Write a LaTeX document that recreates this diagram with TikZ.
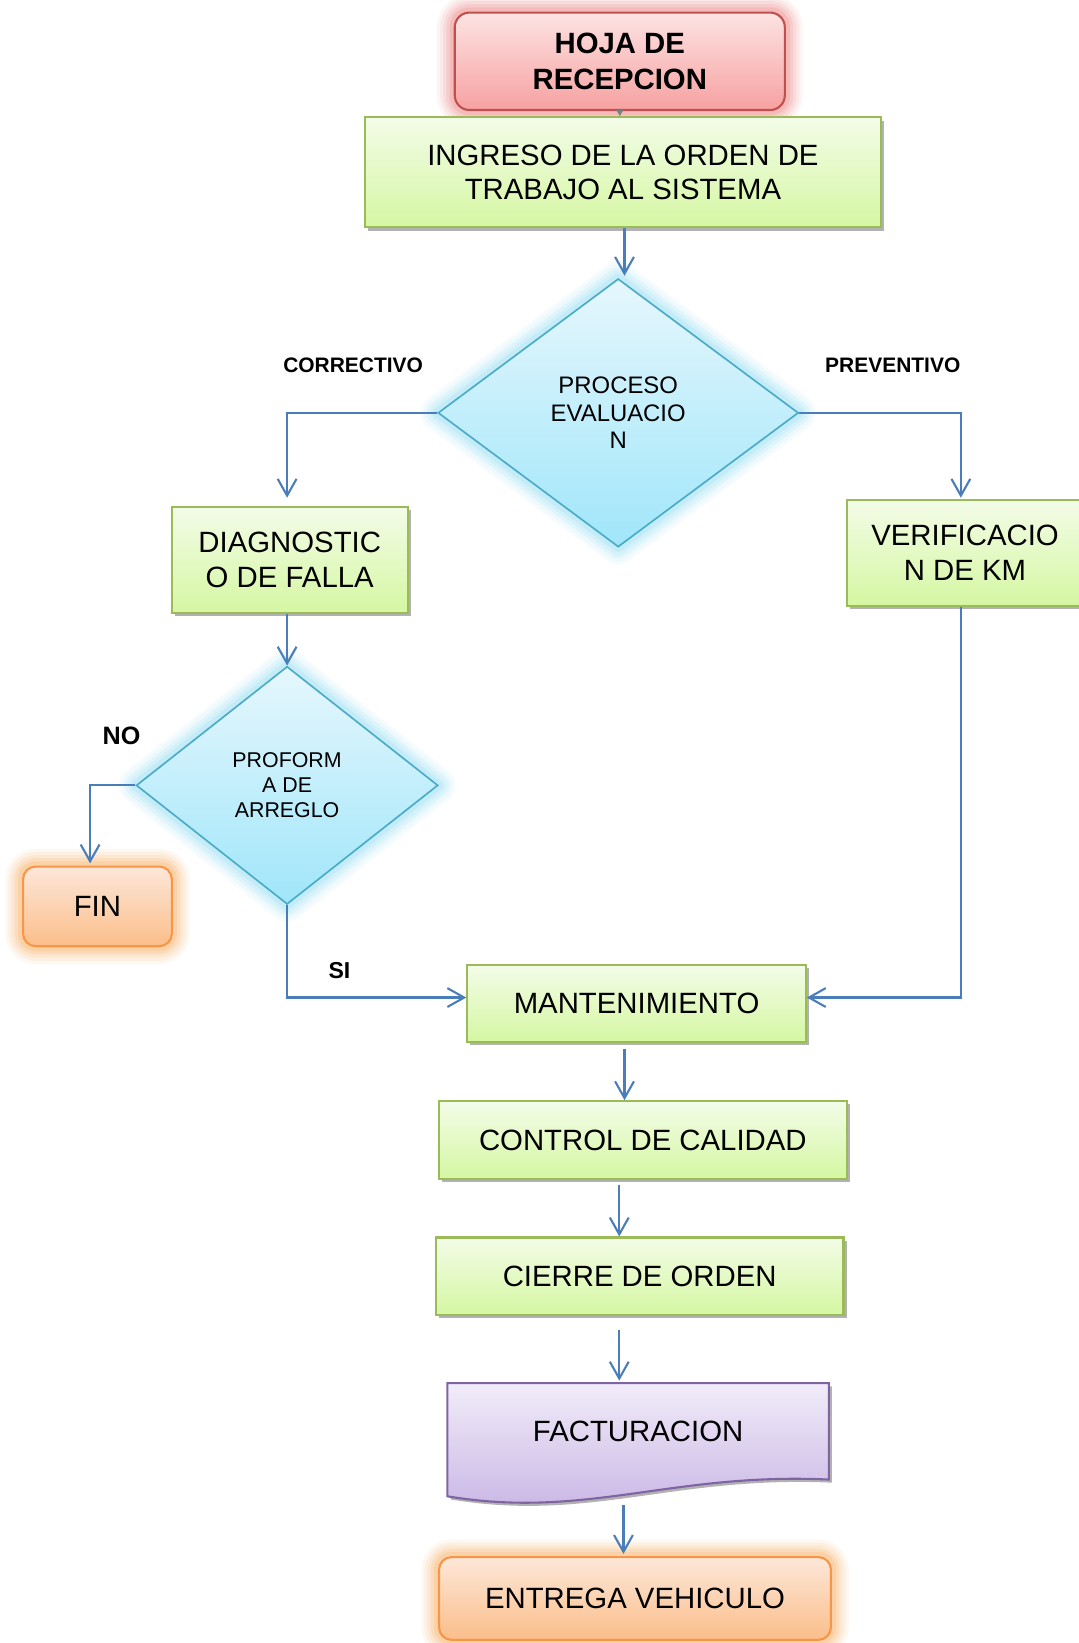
\documentclass[tikz,border=0pt]{standalone}
\usepackage{fontspec}
\setmainfont{Liberation Sans}
\usetikzlibrary{shapes.geometric,arrows.meta,calc,shadows}
\definecolor{lineblue}{HTML}{4A7EBB}
\definecolor{grnborder}{HTML}{9BBB59}
\definecolor{grntop}{HTML}{F3FCE8}
\definecolor{grnbot}{HTML}{D5F7A2}
\definecolor{redborder}{HTML}{C0504D}
\definecolor{redtop}{HTML}{FDE3E3}
\definecolor{redbot}{HTML}{F7A1A1}
\definecolor{redglow}{HTML}{EE7B7B}
\definecolor{orgborder}{HTML}{F79646}
\definecolor{orgtop}{HTML}{FDE7D9}
\definecolor{orgbot}{HTML}{FBBE8A}
\definecolor{orgglow}{HTML}{FBA94F}
\definecolor{bluborder}{HTML}{4BACC6}
\definecolor{blutop}{HTML}{E6F7FD}
\definecolor{blubot}{HTML}{A0E6FA}
\definecolor{bluglow}{HTML}{8ADCF4}
\definecolor{vioborder}{HTML}{8064A2}
\definecolor{viotop}{HTML}{F1ECF9}
\definecolor{viobot}{HTML}{C7B3E4}
\tikzset{
  glow/.style={
    preaction={draw=#1,line width=17pt,draw opacity=0.07,line join=round},
    preaction={draw=#1,line width=14pt,draw opacity=0.09,line join=round},
    preaction={draw=#1,line width=11pt,draw opacity=0.12,line join=round},
    preaction={draw=#1,line width=8pt,draw opacity=0.15,line join=round},
    preaction={draw=#1,line width=5pt,draw opacity=0.2,line join=round}},
  bigtext/.style={font=\fontsize{14}{16.5}\selectfont, align=center, inner sep=0pt},
  greenbox/.style={rectangle, draw=grnborder, line width=1pt, top color=grntop,
    bottom color=grnbot, bigtext,
    drop shadow={shadow xshift=1.5pt, shadow yshift=-1.5pt, opacity=0.3, fill=black}},
  termred/.style={rectangle, rounded corners=7pt, draw=redborder, line width=1pt,
    top color=redtop, bottom color=redbot, glow=redglow, bigtext, font=\fontsize{14}{17.5}\selectfont\bfseries},
  termorg/.style={rectangle, rounded corners=6pt, draw=orgborder, line width=1pt,
    top color=orgtop, bottom color=orgbot, glow=orgglow, bigtext},
  decision/.style={diamond, draw=bluborder, line width=0.8pt, top color=blutop,
    bottom color=blubot, glow=bluglow, align=center, inner sep=0pt},
  conn/.style={draw=lineblue, line width=1pt, -{Straight Barb[length=8pt,width=9pt]}},
  lbl/.style={font=\fontsize{10}{12}\selectfont\bfseries, inner sep=0pt},
}
\begin{document}
\begin{tikzpicture}[x=0.5pt,y=-0.5pt]
\fill[white] (0,0) rectangle (1029,1568);
\useasboundingbox (0,0) rectangle (1029,1568);
\coordinate (xa) at (596,0);
\coordinate (xb) at (591,0);
\coordinate (xc) at (595,0);
\coordinate (xv) at (917,0);
\coordinate (xn) at (86,0);
\coordinate (ym) at (0,952);

% nodes
\node[termred, minimum width=157.5pt, minimum height=46.5pt] (hoja) at (591.5,58.5) {HOJA DE\\RECEPCION};
\node[greenbox, minimum width=246.5pt, minimum height=52.5pt] (ing) at (594.5,164.5) {INGRESO DE LA ORDEN DE\\TRABAJO AL SISTEMA};
\node[decision, minimum width=172pt, minimum height=128pt,
      font=\fontsize{11.4}{13}\selectfont] (pe) at (590,394) {PROCESO\\EVALUACIO\\N};
\node[greenbox, minimum width=112.5pt, minimum height=50.5pt] (diag) at (276.5,534.5) {DIAGNOSTIC\\O DE FALLA};
\node[greenbox, minimum width=113pt, minimum height=50.5pt] (verif) at (921,527.5) {VERIFICACIO\\N DE KM};
\node[decision, minimum width=144pt, minimum height=113.5pt,
      font=\fontsize{10.2}{12}\selectfont] (pf) at (274,749.5) {PROFORM\\A DE\\ARREGLO};
\node[termorg, minimum width=71pt, minimum height=38pt] (fin) at (93,865) {FIN};
\node[greenbox, minimum width=161.5pt, minimum height=36.5pt] (mant) at (607.5,957.5) {MANTENIMIENTO};
\node[greenbox, minimum width=194.5pt, minimum height=37pt] (ctrl) at (613.5,1088) {CONTROL DE CALIDAD};
\node[greenbox, minimum width=194.5pt, minimum height=37pt] (cierre) at (610.5,1218) {CIERRE DE ORDEN};

% document shape for FACTURACION
\fill[black, opacity=0.3, xshift=1.5pt, yshift=-1.5pt]
  (427,1320) -- (791,1320) -- (791,1412) .. controls (640,1405) and (560,1450) .. (427,1428) -- cycle;
\path[draw=vioborder, line width=1pt, top color=viotop, bottom color=viobot]
  (427,1320) -- (791,1320) -- (791,1412) .. controls (640,1405) and (560,1450) .. (427,1428) -- cycle;
\node[bigtext, minimum width=182pt, minimum height=46pt] (fact) at (609,1366) {FACTURACION};

\node[termorg, minimum width=187pt, minimum height=39.5pt] (ent) at (606,1525.5) {ENTREGA VEHICULO};

% labels
\node[lbl] (lcor) at (337,349) {CORRECTIVO};
\node[lbl] (lprev) at (852,349) {PREVENTIVO};
\node[lbl, font=\fontsize{12}{14}\selectfont\bfseries] (lno) at (116,702) {NO};
\node[lbl, font=\fontsize{11}{13}\selectfont\bfseries] (lsi) at (324,926) {SI};

% connectors
\draw[draw=gray, line width=0.6pt, -{Latex[length=3pt,width=4pt]}] (hoja.south) -- (hoja.south |- ing.north);
\draw[conn, shorten >=1pt] (ing.south -| xa) -- (pe.north -| xa);
\draw[conn, shorten >=4pt] (pe.west) -| (pf.north |- diag.north);
\draw[conn, shorten >=0.5pt] (pe.east) -| (xv |- verif.north);
\draw[conn] (pf.north |- diag.south) -- (pf.north);
\draw[conn, shorten >=1pt] (pf.west) -| (xn |- fin.north);
\draw[conn] (pf.south) |- (mant.west |- ym);
\draw[conn] (xv |- verif.south) |- (mant.east |- ym);
\draw[conn, shorten <=3pt] (mant.south -| xa) -- (ctrl.north -| xa);
\draw[conn, shorten <=2.5pt] (ctrl.south -| xb) -- (cierre.north -| xb);
\draw[conn, shorten <=6.5pt, shorten >=1pt] (cierre.south -| xb) -- (fact.north -| xb);
\draw[conn, shorten <=12pt, shorten >=1pt] (fact.south -| xc) -- (ent.north -| xc);
\end{tikzpicture}
\end{document}
